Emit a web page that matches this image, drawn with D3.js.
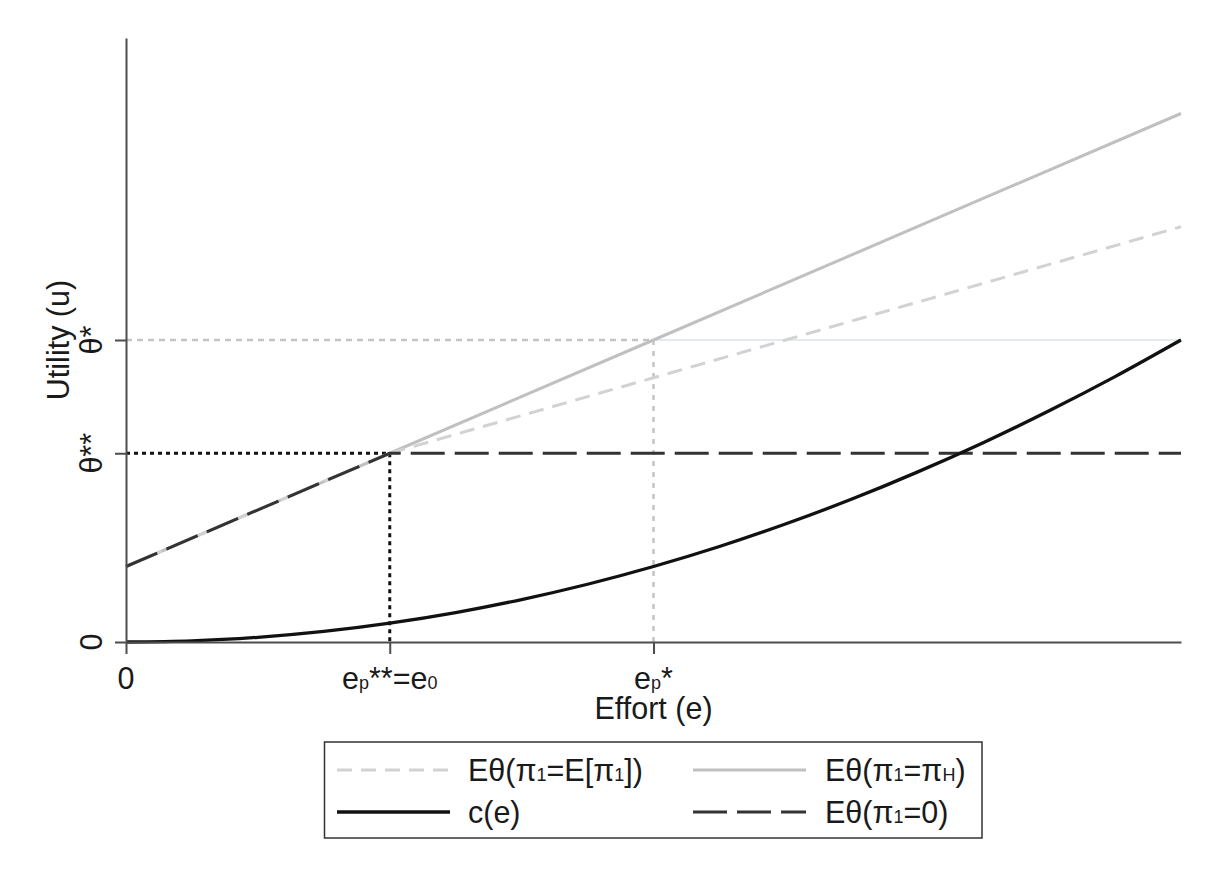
<!DOCTYPE html>
<html>
<head>
<meta charset="utf-8">
<script src="https://cdn.jsdelivr.net/npm/d3@7"></script>
<style>
  body { margin: 0; background: #fff; }
  text { font-family: "Liberation Sans", Arial, sans-serif; fill: #1a1a1a; }
</style>
</head>
<body>
<div id="chart"></div>
<script>
// effort knots and the three expected-utility lines
const effort = [0, 1, 2, 4];
const utilHigh = [4, 10, 16, 28];
const utilExpected = [4, 10, 14, 22];
const utilZero = [4, 10, 10, 10];

// cost curve c(e)
const costEffort = [0, 0.25, 0.5, 0.75, 1, 1.25, 1.5, 1.75, 2, 2.25, 2.5, 2.75, 3, 3.25, 3.5, 3.75, 4];
const costValues = [0, 0.06, 0.25, 0.56, 1, 1.56, 2.25, 3.06, 4, 5.06, 6.25, 7.56, 9, 10.56, 12.25, 14.06, 16];

const thetaStar = 16;
const thetaStarStar = 10;
const effortStar = 2;
const effortStarStar = 1;

// tick labels: [text, isSmall]
const xTicks = [0, effortStarStar, effortStar];
const xTickLabels = [
  [['0']],
  [['e'], ['p', 1], ['**=e'], ['0', 1]],
  [['e'], ['p', 1], ['*']],
];
const yTicks = [0, thetaStarStar, thetaStar];
const yTickLabels = [[['0']], [['θ**']], [['θ*']]];

const legendLabels = [
  [['Eθ(π'], ['1', 1], ['=E[π'], ['1', 1], ['])']],
  [['Eθ(π'], ['1', 1], ['=π'], ['H', 1], [')']],
  [['c(e)']],
  [['Eθ(π'], ['1', 1], ['=0)']],
];

const W = 1209, H = 877;
const FS = 30.5;

const svg = d3.select('#chart').append('svg')
  .attr('width', W).attr('height', H);

const x = d3.scaleLinear().domain([0, 4]).range([126, 1181]);
const y = d3.scaleLinear().domain([0, 32]).range([642, 38]);

function addParts(sel, parts) {
  parts.forEach(([t, small]) => {
    sel.append('tspan')
      .style('font-size', small ? '18px' : FS + 'px')
      .text(t);
  });
}

// reference lines
svg.append('line')
  .attr('x1', x(effortStar)).attr('x2', x(4))
  .attr('y1', y(thetaStar)).attr('y2', y(thetaStar))
  .attr('stroke', '#e3ebee').attr('stroke-width', 2);
svg.append('line')
  .attr('x1', x(0)).attr('x2', x(effortStar))
  .attr('y1', y(thetaStar)).attr('y2', y(thetaStar))
  .attr('stroke', '#c4c4c4').attr('stroke-width', 2.5)
  .attr('stroke-dasharray', '6,5');
svg.append('line')
  .attr('x1', x(effortStar)).attr('x2', x(effortStar))
  .attr('y1', y(thetaStar)).attr('y2', y(0))
  .attr('stroke', '#c4c4c4').attr('stroke-width', 2.5)
  .attr('stroke-dasharray', '5,6');
svg.append('line')
  .attr('x1', x(0)).attr('x2', x(effortStarStar))
  .attr('y1', y(thetaStarStar)).attr('y2', y(thetaStarStar))
  .attr('stroke', '#111').attr('stroke-width', 3)
  .attr('stroke-dasharray', '4,4');
svg.append('line')
  .attr('x1', x(effortStarStar)).attr('x2', x(effortStarStar))
  .attr('y1', y(thetaStarStar)).attr('y2', y(0))
  .attr('stroke', '#111').attr('stroke-width', 3)
  .attr('stroke-dasharray', '4,4');

const line = d3.line().x((d) => x(d[0])).y((d) => y(d[1]));
const styles = {
  high: { stroke: '#c0c0c0', width: 3, dash: null },
  expected: { stroke: '#d2d2d2', width: 3, dash: '15,9' },
  cost: { stroke: '#111', width: 3.3, dash: null },
  zero: { stroke: '#333', width: 3, dash: '34,10' },
};

function drawSeries(xs, ys, st, curve) {
  svg.append('path')
    .datum(xs.map((v, i) => [v, ys[i]]))
    .attr('d', line.curve(curve || d3.curveLinear))
    .attr('fill', 'none')
    .attr('stroke', st.stroke)
    .attr('stroke-width', st.width)
    .attr('stroke-dasharray', st.dash);
}

drawSeries(effort, utilHigh, styles.high);
drawSeries(effort, utilExpected, styles.expected);
drawSeries(effort, utilZero, styles.zero);
drawSeries(costEffort, costValues, styles.cost, d3.curveMonotoneX);

// axes
const xAxis = svg.append('g')
  .attr('transform', `translate(0,${y(0)})`)
  .call(d3.axisBottom(x).tickValues(xTicks).tickSize(12).tickSizeOuter(0).tickFormat(''));
const yAxis = svg.append('g')
  .attr('transform', `translate(${x(0)},0)`)
  .call(d3.axisLeft(y).tickValues(yTicks).tickSize(11).tickSizeOuter(0).tickFormat(''));
[xAxis, yAxis].forEach((g) => {
  g.selectAll('path, line').attr('stroke', '#4d4d4d').attr('stroke-width', 2);
});

xTicks.forEach((v, i) => {
  const t = svg.append('text')
    .attr('x', x(v)).attr('y', 689)
    .attr('text-anchor', 'middle');
  addParts(t, xTickLabels[i]);
});
yTicks.forEach((v, i) => {
  const t = svg.append('text')
    .attr('transform', `translate(102,${y(v)}) rotate(-90)`)
    .attr('text-anchor', 'middle');
  addParts(t, yTickLabels[i]);
});

svg.append('text')
  .attr('x', (x(0) + x(4)) / 2).attr('y', 719)
  .attr('text-anchor', 'middle')
  .style('font-size', FS + 'px')
  .text('Effort (e)');
svg.append('text')
  .attr('transform', `translate(69,${(y(0) + y(32)) / 2}) rotate(-90)`)
  .attr('text-anchor', 'middle')
  .style('font-size', FS + 'px')
  .text('Utility (u)');

// legend
const legend = svg.append('g');
legend.append('rect')
  .attr('x', 324.5).attr('y', 742)
  .attr('width', 657.5).attr('height', 96)
  .attr('fill', '#fff').attr('stroke', '#333').attr('stroke-width', 1.5);

const legendItems = [
  { st: styles.expected, col: 0, row: 0 },
  { st: styles.high, col: 1, row: 0 },
  { st: styles.cost, col: 0, row: 1 },
  { st: styles.zero, col: 1, row: 1 },
];
const keyX = [337, 693];
const textX = [468, 825];
const rowY = [770, 812];
legendItems.forEach((d, i) => {
  legend.append('line')
    .attr('x1', keyX[d.col]).attr('x2', keyX[d.col] + 113)
    .attr('y1', rowY[d.row]).attr('y2', rowY[d.row])
    .attr('stroke', d.st.stroke).attr('stroke-width', d.st.width)
    .attr('stroke-dasharray', d.st.dash);
  const t = legend.append('text')
    .attr('x', textX[d.col]).attr('y', rowY[d.row] + 10.5);
  addParts(t, legendLabels[i]);
});
</script>
</body>
</html>
